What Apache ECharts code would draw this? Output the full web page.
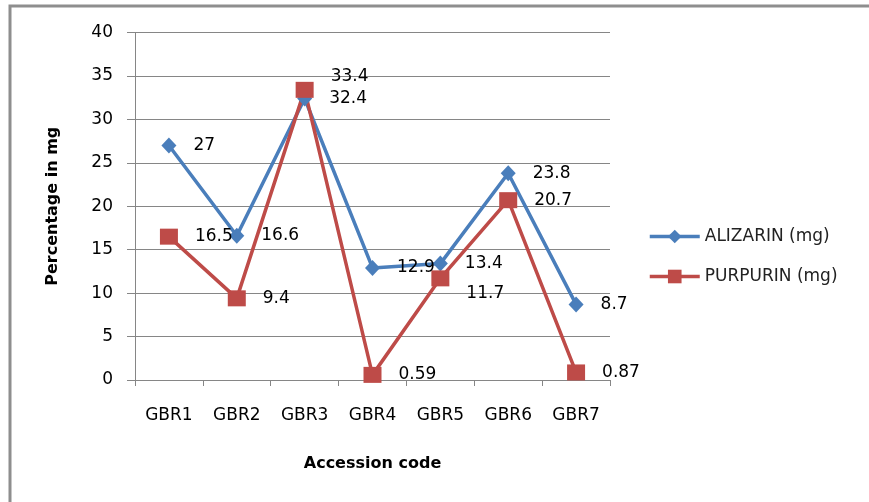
<!DOCTYPE html>
<html>
<head>
<meta charset="utf-8">
<script src="https://cdn.jsdelivr.net/npm/echarts@6/dist/echarts.min.js"></script>
<style>
  html, body { margin: 0; padding: 0; background: #fff; }
  #chart { width: 869px; height: 502px; }
</style>
</head>
<body>
<div id="chart"></div>
<script>
// Accession codes along the x axis
var categories = ['GBR1', 'GBR2', 'GBR3', 'GBR4', 'GBR5', 'GBR6', 'GBR7'];
// Measured amounts (mg)
var alizarin = [27, 16.6, 32.4, 12.9, 13.4, 23.8, 8.7];
var purpurin = [16.5, 9.4, 33.4, 0.59, 11.7, 20.7, 0.87];
var seriesNames = ['ALIZARIN (mg)', 'PURPURIN (mg)'];
// Value axis range
var yMin = 0, yMax = 40, yStep = 5;

var FONT = 'DejaVu Sans';
var BLUE = '#4a7ebb';
var RED = '#be4b48';

// Label nudges for points where the two series' labels would collide
var purpurinOffsets = { 2: [0, -13], 4: [0, 15] };

function buildData(values, offsets) {
  return values.map(function (v, i) {
    var item = { value: v };
    if (offsets && offsets[i]) {
      item.label = { offset: offsets[i] };
    }
    return item;
  });
}

var labelStyle = {
  show: true,
  position: 'right',
  distance: 17,
  color: '#000',
  fontFamily: FONT,
  fontSize: 17
};

var chart = echarts.init(document.getElementById('chart'), null, { renderer: 'canvas' });
chart.setOption({
  animation: false,
  backgroundColor: '#fff',
  textStyle: { fontFamily: FONT },
  graphic: [{
    type: 'rect',
    shape: { x: 10, y: 6, width: 1000, height: 800 },
    style: { fill: 'none', stroke: '#8e8e8e', lineWidth: 3 },
    silent: true,
    z: -10
  }],
  grid: { left: 135, right: 259, top: 32.5, bottom: 122, containLabel: false },
  legend: {
    orient: 'vertical',
    left: 643,
    top: 223,
    itemWidth: 50,
    itemHeight: 17,
    itemGap: 23,
    lineStyle: { width: 3.5 },
    textStyle: { fontFamily: FONT, fontSize: 17, color: '#222' },
    data: seriesNames
  },
  xAxis: {
    type: 'category',
    data: categories,
    boundaryGap: true,
    name: 'Accession code',
    nameLocation: 'middle',
    nameGap: 76,
    nameTextStyle: { fontFamily: FONT, fontSize: 16, fontWeight: 'bold', color: '#000' },
    axisLine: { lineStyle: { color: '#868686', width: 1 } },
    axisTick: { show: true, length: 6, interval: 0, lineStyle: { color: '#868686' } },
    axisLabel: { margin: 27, color: '#000', fontFamily: FONT, fontSize: 17 },
    splitLine: { show: false }
  },
  yAxis: {
    type: 'value',
    min: yMin,
    max: yMax,
    interval: yStep,
    name: 'Percentage in mg',
    nameLocation: 'middle',
    nameGap: 74,
    nameTextStyle: { fontFamily: FONT, fontSize: 16, fontWeight: 'bold', color: '#000' },
    axisLine: { show: true, lineStyle: { color: '#868686', width: 1 } },
    axisTick: { show: true, length: 8, lineStyle: { color: '#868686' } },
    axisLabel: { margin: 22, color: '#000', fontFamily: FONT, fontSize: 17 },
    splitLine: { show: true, lineStyle: { color: '#868686', width: 1 } }
  },
  series: [
    {
      name: seriesNames[0],
      type: 'line',
      data: buildData(alizarin),
      symbol: 'diamond',
      symbolSize: [15, 16],
      showAllSymbol: true,
      lineStyle: { color: BLUE, width: 3.5 },
      itemStyle: { color: BLUE },
      label: labelStyle
    },
    {
      name: seriesNames[1],
      type: 'line',
      data: buildData(purpurin, purpurinOffsets),
      symbol: 'rect',
      symbolSize: [18, 16],
      showAllSymbol: true,
      lineStyle: { color: RED, width: 3.5 },
      itemStyle: { color: RED },
      label: labelStyle
    }
  ]
});
</script>
</body>
</html>
